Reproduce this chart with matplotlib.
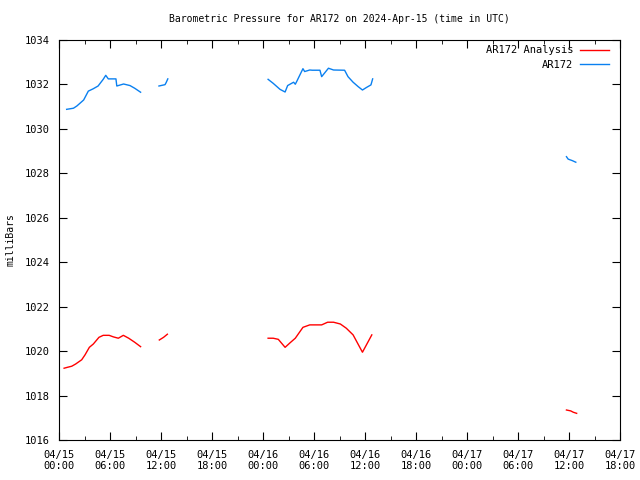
import numpy as np
import pandas as pd
import matplotlib
matplotlib.use("Agg")
import matplotlib.pyplot as plt
import matplotlib.dates as mdates

# hours after 2024-04-15 00:00 UTC, NaN = gap in data
ship_hours = [0.9, 1.7, 2.1, 2.9, 3.45, 4.0, 4.6, 5.2, 5.5, 5.8, 6.7, 6.8, 7.6, 8.35, 8.9, 9.6, np.nan,
              11.76, 12.47, 12.6, 12.8, np.nan,
              24.6, 25.2, 26.0, 26.6, 26.9, 27.6, 27.8, 28.0, 28.7, 28.9, 29.5, 29.8, 30.7, 30.9,
              31.7, 32.3, 33.6, 34.0, 34.6, 35.2, 35.7, 36.2, 36.7, 36.9, np.nan,
              59.7, 59.9, 60.4, 60.8]
ship_mb = [1030.88, 1030.93, 1031.03, 1031.3, 1031.7, 1031.8, 1031.93, 1032.23, 1032.41, 1032.25,
           1032.25, 1031.93, 1032.02, 1031.95, 1031.83, 1031.65, np.nan,
           1031.93, 1031.99, 1032.08, 1032.25, np.nan,
           1032.23, 1032.05, 1031.78, 1031.66, 1031.95, 1032.1, 1032.01, 1032.16, 1032.71, 1032.58,
           1032.65, 1032.64, 1032.64, 1032.35, 1032.73, 1032.65, 1032.64, 1032.35, 1032.1, 1031.9,
           1031.75, 1031.87, 1031.98, 1032.25, np.nan,
           1028.75, 1028.64, 1028.57, 1028.5]

anal_hours = [0.6, 0.98, 1.5, 1.96, 2.67, 3.06, 3.57, 4.04, 4.7, 5.2, 5.9, 6.4, 6.98, 7.57, 8.2, 8.9, 9.6, np.nan,
              11.8, 12.3, 12.75, np.nan,
              24.6, 25.2, 25.8, 26.6, 27.2, 27.8, 28.7, 29.5, 30.9, 31.6, 32.3, 33.1, 33.8, 34.6, 35.7, 36.8, np.nan,
              59.7, 60.2, 60.5, 60.9]
anal_mb = [1019.23, 1019.27, 1019.32, 1019.42, 1019.61, 1019.83, 1020.17, 1020.32, 1020.62, 1020.71,
           1020.71, 1020.64, 1020.58, 1020.71, 1020.58, 1020.40, 1020.2, np.nan,
           1020.5, 1020.62, 1020.76, np.nan,
           1020.58, 1020.58, 1020.53, 1020.17, 1020.38, 1020.58, 1021.07, 1021.18, 1021.18, 1021.3,
           1021.3, 1021.22, 1021.03, 1020.73, 1019.95, 1020.73, np.nan,
           1017.35, 1017.31, 1017.25, 1017.2]

start = pd.Timestamp("2024-04-15 00:00")
ship_t = start + pd.to_timedelta(ship_hours, unit="h")
anal_t = start + pd.to_timedelta(anal_hours, unit="h")

plt.rcParams['font.family'] = ['DejaVu Sans Mono']
plt.rcParams['font.size'] = 7

fig = plt.figure(figsize=(6.4, 4.8), dpi=100)
ax = fig.add_axes([59 / 640, 40 / 480, 561 / 640, 400 / 480])

ax.plot(anal_t, anal_mb, color='#ff0000', lw=1, label='AR172 Analysis')
ax.plot(ship_t, ship_mb, color='#0a80f0', lw=1, label='AR172')

ax.set_xlim(start, start + pd.Timedelta(hours=66))
ax.set_ylim(1016, 1034)
ax.set_yticks(np.arange(1016, 1035, 2))
ax.xaxis.set_major_locator(mdates.HourLocator(byhour=[0, 6, 12, 18]))
ax.xaxis.set_minor_locator(mdates.HourLocator(byhour=[3, 9, 15, 21]))
ax.xaxis.set_major_formatter(mdates.DateFormatter("%m/%d\n%H:%M"))
ax.tick_params(which='both', direction='in', top=True, right=True, pad=7, labelsize=7.5)
ax.tick_params(which='major', length=6)
ax.tick_params(which='minor', length=3)

ax.set_ylabel("milliBars", labelpad=6)
ax.set_title("Barometric Pressure for AR172 on 2024-Apr-15 (time in UTC)", pad=13, fontsize=7)

leg = ax.legend(loc='upper right', bbox_to_anchor=(1 - 6 / 561, 1), frameon=False, markerfirst=False,
                handlelength=2.8, borderaxespad=0.1, labelspacing=0.45, handletextpad=0.6,
                fontsize=7.5)

fig.savefig("out.png", dpi=100)
